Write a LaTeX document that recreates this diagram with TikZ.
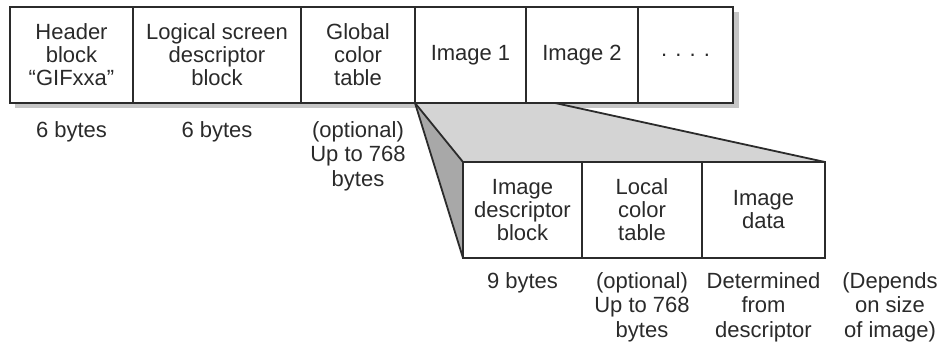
\documentclass[tikz,border=0pt]{standalone}
\usepackage{fontspec}
\setmainfont{Liberation Sans}
\usetikzlibrary{calc}
\definecolor{linec}{HTML}{2B2B2B}
\definecolor{textc}{HTML}{2A2A2A}
\definecolor{shadowc}{HTML}{C6C6C6}
\definecolor{wedgelight}{HTML}{D4D4D4}
\definecolor{wedgedark}{HTML}{A8A8A8}
\tikzset{
  blk/.style={draw=linec, line width=2pt, fill=white, minimum height=96pt,
    inner sep=0pt, align=center, text=textc,
    font=\fontsize{22}{23}\selectfont},
  lbl/.style={anchor=base, inner sep=0pt, align=center, text=textc,
    font=\fontsize{22}{24.5}\selectfont},
  edge/.style={draw=linec, line width=1.8pt, line join=miter},
}
\begin{document}
\begin{tikzpicture}[x=1pt, y=-1pt]
\useasboundingbox (0,0) rectangle (952,345);
% shadow of the top row
\fill[shadowc] (15,12) rectangle (739,108);
% named points of the wedge
\coordinate (apex) at (415,103);
\coordinate (wtop) at (555,103);
\coordinate (ltl) at (463,162);
\coordinate (ltr) at (825,162);
\coordinate (lbl) at (463,258);
% wedge fills
\fill[wedgelight] (apex) -- (wtop) -- (ltr) -- (ltl) -- cycle;
\fill[wedgedark] (apex) -- (ltl) -- (lbl) -- cycle;
\draw[edge] (apex) -- (ltl);
\draw[edge] (apex) -- (lbl);
\draw[edge] (wtop) -- (ltr);
% top row
\node[blk, minimum width=123pt] (b1) at (71.5,55) {Header\\block\\“GIFxxa”};
\node[blk, minimum width=168pt] (b2) at (217,55) {Logical screen\\descriptor\\block};
\node[blk, minimum width=114pt] (b3) at (358,55) {Global\\color\\table};
\node[blk, minimum width=111pt] (b4) at (470.5,55) {Image 1};
\node[blk, minimum width=112pt] (b5) at (582,55) {Image 2};
\node[blk, minimum width=95pt] (b6) at (685.5,55) {. . . .};
% lower row
\node[blk, minimum width=119pt] (c1) at (522.5,210) {Image\\descriptor\\block};
\node[blk, minimum width=120pt] (c2) at (642,210) {Local\\color\\table};
\node[blk, minimum width=123pt] (c3) at (763.5,210) {Image\\data};
% labels under top row (base = last line)
\node[lbl] (t1) at (71.5,137) {6 bytes};
\node[lbl] (t2) at (217,137) {6 bytes};
\node[lbl] (t3) at (358,186) {(optional)\\Up to 768\\bytes};
% labels under lower row
\node[lbl] (u1) at (522.5,288) {9 bytes};
\node[lbl] (u2) at (642,337) {(optional)\\Up to 768\\bytes};
\node[lbl] (u3) at (763.5,337) {Determined\\from\\descriptor};
\node[lbl] (u4) at (890,337) {(Depends\\on size\\of image)};
\end{tikzpicture}
\end{document}
